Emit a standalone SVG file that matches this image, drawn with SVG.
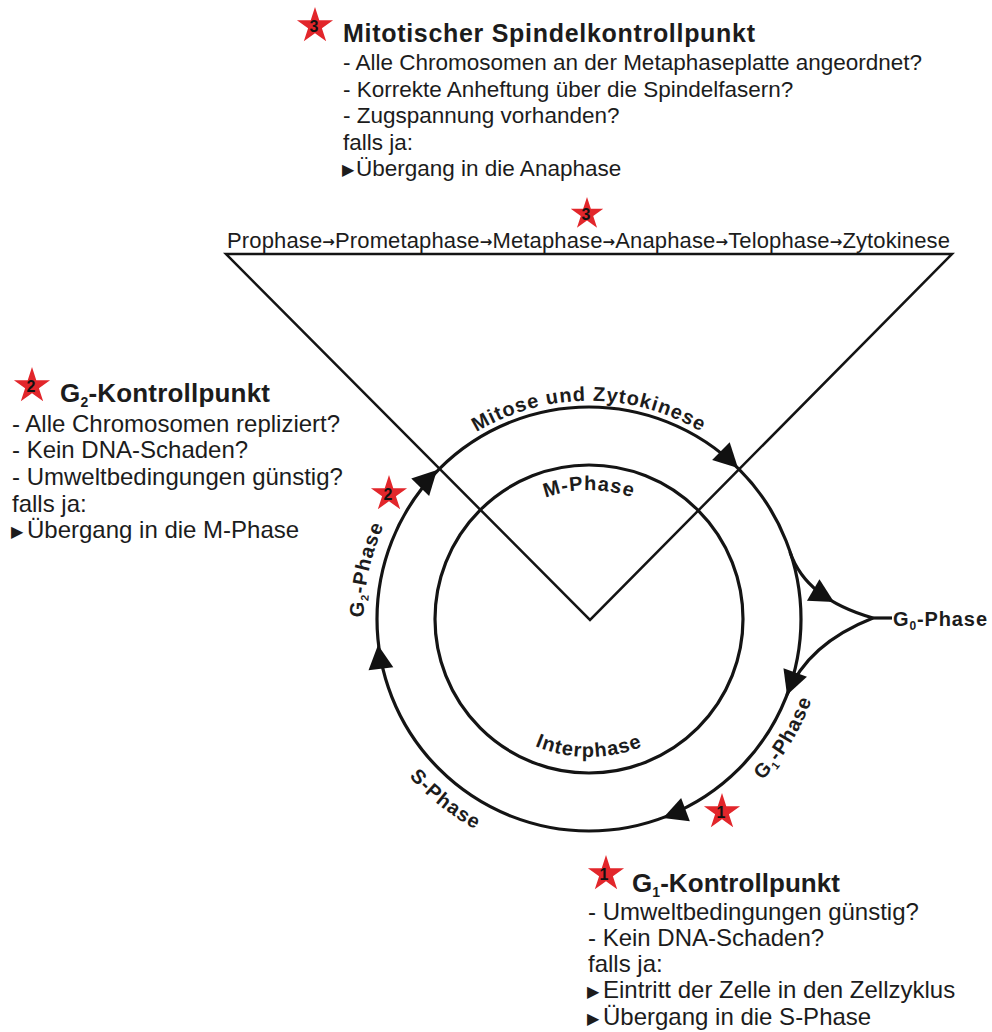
<svg xmlns="http://www.w3.org/2000/svg" xmlns:xlink="http://www.w3.org/1999/xlink" width="992" height="1032" viewBox="0 0 992 1032">
<style>
.t{font-family:"Liberation Sans",Arial,sans-serif;fill:#1c1c1c}
.b{font-weight:bold}
.body{font-size:24px}
.top{font-size:22.5px}
.ttl{font-size:26px;font-weight:bold}
.arc{font-family:"Liberation Sans",Arial,sans-serif;font-weight:bold;font-size:20px;letter-spacing:1px;fill:#1c1c1c}
.ln{stroke:#141414;stroke-width:3.2;fill:none}
.tri{stroke:#141414;stroke-width:2.5;fill:none}
.star{fill:#e2262b}
.num{font-family:"Liberation Sans",Arial,sans-serif;font-weight:bold;font-size:16px;fill:#111;text-anchor:middle}
.ah{fill:#111}
.arr{font-family:"DejaVu Sans",sans-serif;font-weight:bold;font-size:15px}
.bul{font-family:"DejaVu Sans",sans-serif;font-size:16px}
</style>
<defs>
<path id="starshape" d="M0,-19 L4.27,-5.87 L18.07,-5.87 L6.9,2.24 L11.17,15.37 L0,7.26 L-11.17,15.37 L-6.9,2.24 L-18.07,-5.87 L-4.27,-5.87 Z"/>
<path id="head" d="M0,0 L-24,-12.5 L-24,12.5 Z"/>
<path id="p-mitose" d="M384.1,544.4 A218,218 0 0 1 793.9,544.4"/>
<path id="p-mphase" d="M467.8,574.9 A129,129 0 0 1 710.2,574.9"/>
<path id="p-inter" d="M459.3,666.2 A138,138 0 0 0 718.7,666.2"/>
<path id="p-sphase" d="M354.8,666.6 A239,239 0 0 0 595.3,857.9"/>
<path id="p-g1" d="M658.3,845.6 A237,237 0 0 0 824.2,590.1"/>
<path id="p-g2" d="M389.4,722.9 A224,224 0 0 1 452,440.5"/>
</defs>
<rect width="992" height="1032" fill="#fff"/>

<g id="connectors">
  <path class="tri" d="M226,254 L952,254 L590,620 Z"/>
  <circle class="ln" cx="589" cy="619" r="212"/>
  <circle class="ln" cx="589" cy="619" r="154"/>
  <path class="ln" d="M790,552 Q806,599 873,618"/>
  <path class="ln" d="M873,618 Q807,644 787,695"/>
  <path class="ln" d="M873,618 L892,618"/>
  <use href="#head" class="ah" transform="translate(437,470) rotate(-45.6)"/>
  <use href="#head" class="ah" transform="translate(738,468) rotate(44.6)"/>
  <use href="#head" class="ah" transform="translate(663,818) rotate(159.6)"/>
  <use href="#head" class="ah" transform="translate(378,645) rotate(-97)"/>
  <use href="#head" class="ah" transform="translate(834,602) rotate(30)"/>
  <use href="#head" class="ah" transform="translate(787,695) rotate(110)"/>
</g>

<g id="cycle-labels">
  <text class="arc"><textPath href="#p-mitose" startOffset="50%" text-anchor="middle">Mitose und Zytokinese</textPath></text>
  <text class="arc"><textPath href="#p-mphase" startOffset="50%" text-anchor="middle">M-Phase</textPath></text>
  <text class="arc"><textPath href="#p-inter" startOffset="50%" text-anchor="middle">Interphase</textPath></text>
  <text class="arc"><textPath href="#p-sphase" startOffset="50%" text-anchor="middle">S-Phase</textPath></text>
  <text class="arc" letter-spacing="2.5"><textPath href="#p-g1" startOffset="52%" text-anchor="middle">G<tspan font-size="11" dy="4">1</tspan><tspan dy="-4">-Phase</tspan></textPath></text>
  <text class="arc"><textPath href="#p-g2" startOffset="50%" text-anchor="middle">G<tspan font-size="11" dy="4">2</tspan><tspan dy="-4">-Phase</tspan></textPath></text>
</g>

<g id="g0-phase">
  <text class="t b" x="893" y="626" font-size="20" textLength="94" lengthAdjust="spacing">G<tspan font-size="12" dy="4">0</tspan><tspan dy="-4">-Phase</tspan></text>
</g>

<g id="mitosis-phases">
  <text class="t" x="227" y="248" font-size="22" textLength="723" lengthAdjust="spacing">Prophase<tspan class="arr" dy="-1">→</tspan><tspan dy="1">Prometaphase</tspan><tspan class="arr" dy="-1">→</tspan><tspan dy="1">Metaphase</tspan><tspan class="arr" dy="-1">→</tspan><tspan dy="1">Anaphase</tspan><tspan class="arr" dy="-1">→</tspan><tspan dy="1">Telophase</tspan><tspan class="arr" dy="-1">→</tspan><tspan dy="1">Zytokinese</tspan></text>
  <use href="#starshape" class="star" transform="translate(587,214) scale(0.9)"/>
  <text class="num" x="586" y="220">3</text>
</g>

<g id="star-2-cycle">
  <use href="#starshape" class="star" transform="translate(389,494)"/>
  <text class="num" x="388" y="500">2</text>
</g>
<g id="star-1-cycle">
  <use href="#starshape" class="star" transform="translate(722,812)"/>
  <text class="num" x="721" y="818">1</text>
</g>

<g id="mitotic-checkpoint">
  <use href="#starshape" class="star" transform="translate(315,26)"/>
  <text class="num" x="314" y="32">3</text>
  <text class="t b" x="343" y="42" font-size="25" textLength="412" lengthAdjust="spacing">Mitotischer Spindelkontrollpunkt</text>
  <text class="t top" x="343" y="70">- Alle Chromosomen an der Metaphaseplatte angeordnet?</text>
  <text class="t top" x="343" y="96.5">- Korrekte Anheftung über die Spindelfasern?</text>
  <text class="t top" x="343" y="123">- Zugspannung vorhanden?</text>
  <text class="t top" x="343" y="149.5">falls ja:</text>
  <text class="t top" x="342" y="176"><tspan class="bul" dy="-1">▶</tspan><tspan x="356" dy="1">Übergang in die Anaphase</tspan></text>
</g>

<g id="g2-checkpoint">
  <use href="#starshape" class="star" transform="translate(32,386)"/>
  <text class="num" x="31" y="392">2</text>
  <text class="t ttl" x="60" y="402" textLength="210" lengthAdjust="spacing">G<tspan font-size="14" dy="5">2</tspan><tspan dy="-5">-Kontrollpunkt</tspan></text>
  <text class="t body" x="12" y="432">- Alle Chromosomen repliziert?</text>
  <text class="t body" x="12" y="458">- Kein DNA-Schaden?</text>
  <text class="t body" x="12" y="485">- Umweltbedingungen günstig?</text>
  <text class="t body" x="12" y="512">falls ja:</text>
  <text class="t body" x="11" y="538"><tspan class="bul" dy="-1">▶</tspan><tspan x="27" dy="1">Übergang in die M-Phase</tspan></text>
</g>

<g id="g1-checkpoint">
  <use href="#starshape" class="star" transform="translate(606,874)"/>
  <text class="num" x="604" y="880">1</text>
  <text class="t ttl" x="632" y="892" textLength="208" lengthAdjust="spacing">G<tspan font-size="14" dy="5">1</tspan><tspan dy="-5">-Kontrollpunkt</tspan></text>
  <text class="t body" x="588" y="920">- Umweltbedingungen günstig?</text>
  <text class="t body" x="588" y="946">- Kein DNA-Schaden?</text>
  <text class="t body" x="588" y="972">falls ja:</text>
  <text class="t body" x="587" y="998"><tspan class="bul" dy="-1">▶</tspan><tspan x="603" dy="1">Eintritt der Zelle in den Zellzyklus</tspan></text>
  <text class="t body" x="587" y="1025"><tspan class="bul" dy="-1">▶</tspan><tspan x="603" dy="1">Übergang in die S-Phase</tspan></text>
</g>
</svg>
